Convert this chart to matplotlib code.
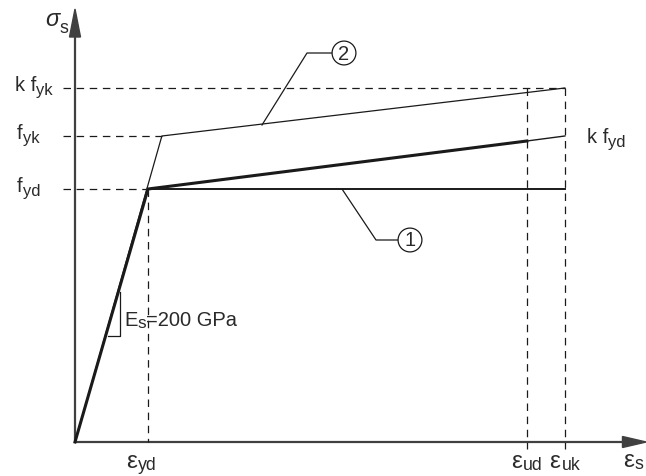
import matplotlib
matplotlib.use("Agg")
import matplotlib.pyplot as plt
from matplotlib.patches import FancyArrow
from matplotlib.transforms import ScaledTranslation

plt.rcParams['font.family'] = ['Liberation Sans', 'DejaVu Sans']

# Schematic values (strain in per mille, stress in schematic units)
eps_yd = 2.0
eps_yk = 2.38
eps_ud = 12.38
eps_uk = 13.42
f_yd = 253
f_yk = 306
kf_yk = 354
kf_yd_ud = 301
kf_yd = 306

y_label_base = ['k f', 'f', 'f']
y_label_sub = ['yk', 'yk', 'yd']
y_label_vals = [kf_yk, f_yk, f_yd]
x_label_base = ['ε', 'ε', 'ε']
x_label_sub = ['yd', 'ud', 'uk']
x_label_vals = [eps_yd, eps_ud, eps_uk]

# curves
char_eps = [0, eps_yk, eps_uk]
char_sig = [0, f_yk, kf_yk]
des_eps = [0, eps_yd, eps_ud]
des_sig = [0, f_yd, kf_yd_ud]
des_ext_eps = [eps_ud, eps_uk]
des_ext_sig = [kf_yd_ud, kf_yd]
hor_eps = [eps_yd, eps_uk]
hor_sig = [f_yd, f_yd]

W, H = 646, 477
DPI = 100
fig = plt.figure(figsize=(W / DPI, H / DPI), dpi=DPI)
ax = fig.add_axes([0, 0, 1, 1])
sx = 36.5  # px per strain unit
x0, y0 = 75, 443
ax.set_xlim(-x0 / sx, (W - x0) / sx)
ax.set_ylim(-(H - y0), y0)
ax.axis('off')
renderer = fig.canvas.get_renderer()

txt = '#2a2a2a'
ln = '#1a1a1a'
axc = '#404040'
FS = 14.5


def px(xp):
    return (xp - x0) / sx


def py(yp):
    return y0 - yp


def off(dx, dy):
    return ax.transData + ScaledTranslation(dx / DPI, dy / DPI, fig.dpi_scale_trans)


def stext(x, y, base, sub, ha='left', fs=FS, bfs=None, scale=0.82, drop=4,
          base_style='normal', gap=0):
    bfs = bfs or fs
    t1 = ax.text(x, y, base, fontsize=bfs, color=txt, ha='left', va='baseline',
                 style=base_style)
    w1 = t1.get_window_extent(renderer).width + gap
    t2 = ax.text(x, y, sub, fontsize=fs * scale, color=txt, ha='left', va='baseline',
                 transform=off(w1, -drop))
    w2 = t2.get_window_extent(renderer).width
    if ha == 'center':
        s = -(w1 + w2) / 2
        t1.set_transform(off(s, 0))
        t2.set_transform(off(s + w1, -drop))
    return w1 + w2


# axes with arrows
ax.plot([0, 0], [0, 420], color=axc, lw=1.6, solid_capstyle='butt')
ax.plot([0, 15.2], [0, 0], color=axc, lw=1.6, solid_capstyle='butt')
ax.add_patch(FancyArrow(0, 405, 0, 28, width=0, head_width=11 / sx, head_length=28,
                        length_includes_head=True, color=axc))
ax.add_patch(FancyArrow(15.0, 0, 0.65, 0, width=0, head_width=11, head_length=0.65,
                        length_includes_head=True, color=axc))

dash = dict(color=ln, lw=0.9, dashes=(6, 4.5))
# horizontal dashed
ax.plot([px(63), eps_uk], [kf_yk, kf_yk], **dash)
ax.plot([px(63), eps_yk], [f_yk, f_yk], **dash)
ax.plot([px(63), eps_yd], [f_yd, f_yd], **dash)
# vertical dashed
ax.plot([eps_yd, eps_yd], [f_yd, 0], **dash)
ax.plot([eps_ud, eps_ud], [kf_yk, -7], **dash)
ax.plot([eps_uk, eps_uk], [kf_yk, -7], **dash)

# curves
ax.plot(char_eps, char_sig, color=ln, lw=0.9)
ax.plot(des_eps, des_sig, color=ln, lw=2.2, solid_joinstyle='miter')
ax.plot(des_ext_eps, des_ext_sig, color=ln, lw=1.0)
ax.plot(hor_eps, hor_sig, color=ln, lw=1.4)

# slope triangle
ax.plot([px(108), px(120), px(120)], [py(337), py(337), py(293)], color=ln, lw=0.9)
wE = stext(px(124), py(326), 'E', 's', drop=2, scale=0.85)
ax.text(px(124), py(326), '=200 GPa', fontsize=FS, color=txt, ha='left', va='baseline',
        transform=off(wE, 0))

# leader 2
ax.plot([px(262), px(307), px(333)], [py(126), py(54), py(54)], color=ln, lw=0.9)
ax.text(px(344), py(54), '2', fontsize=FS, color=txt, ha='center', va='center',
        bbox=dict(boxstyle='circle,pad=0.12', fc='white', ec=ln, lw=0.9))
# leader 1
ax.plot([px(342), px(376), px(398)], [f_yd, py(241), py(241)], color=ln, lw=0.9)
ax.text(px(410), py(241), '1', fontsize=FS, color=txt, ha='center', va='center',
        bbox=dict(boxstyle='circle,pad=0.12', fc='white', ec=ln, lw=0.9))

# labels
for b, s, v, xl in zip(y_label_base, y_label_sub, y_label_vals, [15, 17, 17]):
    stext(px(xl), v - 2, b, s)
stext(px(587), py(143), 'k f', 'yd')
for b, s, v, dx in zip(x_label_base, x_label_sub, x_label_vals, [-7, 0, 0]):
    stext(v + dx / sx, py(468), b, s, ha='center', drop=2, scale=0.88, bfs=17.5, gap=1)
stext(px(623), py(467), 'ε', 's', drop=2, scale=0.88, bfs=17.5, gap=1)
stext(px(45), py(26), 'σ', 's', drop=7, scale=0.88, bfs=17, base_style='italic')

fig.savefig('out.png', dpi=DPI)
